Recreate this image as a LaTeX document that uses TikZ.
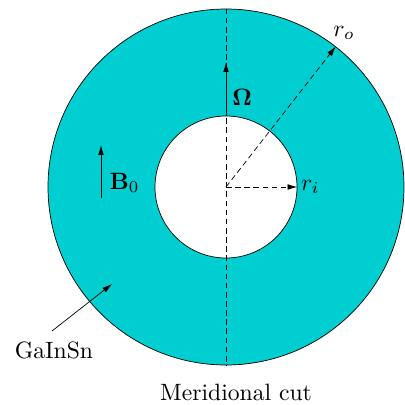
\documentclass[tikz,border=0pt]{standalone}
\usepackage{amsmath, amssymb}
\usepackage{tikz}
\usetikzlibrary{arrows.meta, positioning, calc}
\usepackage{xcolor}
\definecolor{metalcyan}{RGB}{0,206,209}
\tikzset{
  annulus/.style={circle, draw=black, line width=0.5pt, inner sep=0pt},
  axisline/.style={dashed, line width=0.5pt, dash pattern=on 4pt off 2.5pt},
  vecarrow/.style={-{Latex[length=7pt, width=4pt]}, line width=0.6pt},
  radarrow/.style={-{Latex[length=7pt, width=4pt]}, dashed, line width=0.5pt, dash pattern=on 4pt off 2.5pt},
  lbl/.style={font=\normalsize, scale=1.68, inner sep=0.5pt},
}

\begin{document}
\begin{tikzpicture}
\useasboundingbox (-5.65,-5.45) rectangle (4.475,4.675);

% Cylinder cut
\coordinate (c) at (0,0);
\node[annulus, fill=metalcyan, minimum size=8.9cm] (outer) at (c) {};
\node[annulus, fill=white, minimum size=3.55cm] (inner) at (c) {};

% Axis
\draw[axisline] (outer.north) -- (outer.south);

% Rotation
\coordinate (omtip) at (0,3.125);
\draw[vecarrow] (inner.north) -- (omtip);
\node[lbl, anchor=west] (om) at (0.12,2.25) {$\boldsymbol{\Omega}$};

% Radii
\draw[radarrow] (c) -- (outer.52);
\node[lbl] (ro) at (2.95,3.85) {$r_o$};
\draw[radarrow] (c) -- (inner.east);
\node[lbl, right=0.05cm of inner.east] (ri) {$r_i$};

% Magnetic field
\coordinate (bfoot) at (-3.125,-0.275);
\coordinate (bhead) at (-3.125,1.05);
\draw[vecarrow] (bfoot) -- (bhead);
\node[lbl, anchor=west] (bz) at (-2.95,0.1) {$\mathbf{B}_0$};

% Fluid
\node[lbl] (fluid) at (-4.3,-4.075) {GaInSn};
\coordinate (fhead) at (-2.85,-2.425);
\draw[vecarrow, line width=0.5pt] (-4.35,-3.6) -- (fhead);

\node[lbl, anchor=base, text depth=0pt, inner sep=0pt] (cap) at (0.25,-5.33) {Meridional cut};

\end{tikzpicture}
\end{document}
